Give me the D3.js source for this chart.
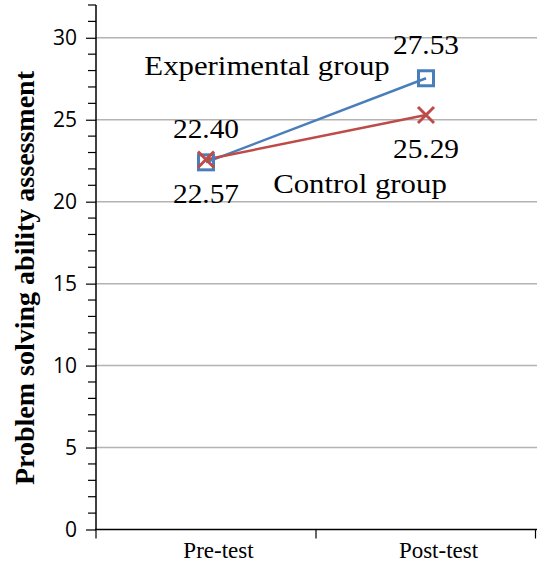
<!DOCTYPE html>
<html><head><meta charset="utf-8">
<script src="https://cdn.jsdelivr.net/npm/d3@7"></script>
<style>body{margin:0;background:#fff}svg{display:block}</style>
</head><body>
<svg id="c" width="537" height="564"></svg>
<script>
const categories = ["Pre-test", "Post-test"];
const experimental = [22.40, 27.53];
const control = [22.57, 25.29];
const seriesNames = ["Experimental group", "Control group"];
const yTicks = [0, 5, 10, 15, 20, 25, 30];
const yTitle = "Problem solving ability assessment";

const svg = d3.select("#c");
const y = d3.scaleLinear().domain([0, 32]).range([529.5, 5]);
const xb = d3.scaleBand().domain(categories).range([96, 536]);
const xc = c => xb(c) + xb.bandwidth() / 2;
const serif = "Liberation Serif, Times New Roman, serif";

// gridlines
svg.append("g").selectAll("line").data(yTicks.filter(d => d > 0)).join("line")
  .attr("x1", 96).attr("x2", 537)
  .attr("y1", d => y(d)).attr("y2", d => y(d))
  .attr("stroke", "#b3b3b3").attr("stroke-width", 1.5);

// y axis
const yAxis = d3.axisLeft(y).tickValues(yTicks).tickSize(10).tickPadding(9).tickFormat(d3.format("d"));
const gy = svg.append("g").attr("transform", "translate(96,0)").call(yAxis);
gy.select(".domain").attr("stroke", "#000").attr("stroke-width", 1.5).attr("d", "M0," + y(32) + "V" + y(0));
gy.selectAll(".tick line").attr("stroke", "#000").attr("stroke-width", 1.2);
gy.selectAll(".tick text").attr("font-family", "Open Sans, sans-serif").attr("font-size", 21).attr("fill", "#000");
// minor ticks
const minor = d3.range(0, 33).filter(d => d % 5 !== 0);
svg.append("g").selectAll("line").data(minor).join("line")
  .attr("x1", 88).attr("x2", 96)
  .attr("y1", d => y(d)).attr("y2", d => y(d))
  .attr("stroke", "#000").attr("stroke-width", 1.2);

// x axis
svg.append("line").attr("x1", 95).attr("x2", 537).attr("y1", y(0)).attr("y2", y(0))
  .attr("stroke", "#000").attr("stroke-width", 1.5);
const bounds = categories.map(c => xb(c)).concat([xb.range()[1] - 0.5]);
svg.append("g").selectAll("line").data(bounds).join("line")
  .attr("x1", d => d).attr("x2", d => d).attr("y1", y(0)).attr("y2", y(0) + 9)
  .attr("stroke", "#000").attr("stroke-width", 1.2);
svg.append("g").selectAll("text").data(categories).join("text")
  .attr("x", d => xc(d) + 12.5).attr("y", 558)
  .attr("text-anchor", "middle")
  .attr("font-family", serif).attr("font-size", 23)
  .text(d => d);

// y title
svg.append("text").attr("transform", "translate(34,278) rotate(-90)")
  .attr("text-anchor", "middle")
  .attr("font-family", serif).attr("font-weight", "bold").attr("font-size", 28)
  .text(yTitle);

// lines
const line = d3.line().x((d, i) => xc(categories[i])).y(d => y(d));
svg.append("path").datum(experimental).attr("d", line).attr("fill", "none").attr("stroke", "#4a7ebb").attr("stroke-width", 2.5);
svg.append("path").datum(control).attr("d", line).attr("fill", "none").attr("stroke", "#be4b48").attr("stroke-width", 2.5);

// markers
svg.append("g").selectAll("rect").data(experimental).join("rect")
  .attr("x", (d, i) => xc(categories[i]) - 7.5).attr("y", d => y(d) - 7.5)
  .attr("width", 15).attr("height", 15)
  .attr("fill", "none").attr("stroke", "#4a7ebb").attr("stroke-width", 3);
svg.append("g").selectAll("path").data(control).join("path")
  .attr("d", (d, i) => {
    const cx = xc(categories[i]), cy = y(d), s = 8;
    return `M${cx - s},${cy - s}L${cx + s},${cy + s}M${cx - s},${cy + s}L${cx + s},${cy - s}`;
  })
  .attr("fill", "none").attr("stroke", "#be4b48").attr("stroke-width", 3);

// data labels
svg.append("g").selectAll("text").data(experimental).join("text")
  .attr("transform", (d, i) => `translate(${xc(categories[i])},${y(d) - 24}) scale(1.05,1)`)
  .attr("text-anchor", "middle").attr("font-family", serif).attr("font-size", 28)
  .text(d => d.toFixed(2));
svg.append("g").selectAll("text").data(control).join("text")
  .attr("transform", (d, i) => `translate(${xc(categories[i])},${y(d) + 43}) scale(1.05,1)`)
  .attr("text-anchor", "middle").attr("font-family", serif).attr("font-size", 28)
  .text(d => d.toFixed(2));

// series labels
svg.append("text").attr("transform", "translate(267,75) scale(1.1,1)").attr("text-anchor", "middle")
  .attr("font-family", serif).attr("font-size", 28).text(seriesNames[0]);
svg.append("text").attr("transform", "translate(360,192.5) scale(1.1,1)").attr("text-anchor", "middle")
  .attr("font-family", serif).attr("font-size", 28).text(seriesNames[1]);
</script>
</body></html>
